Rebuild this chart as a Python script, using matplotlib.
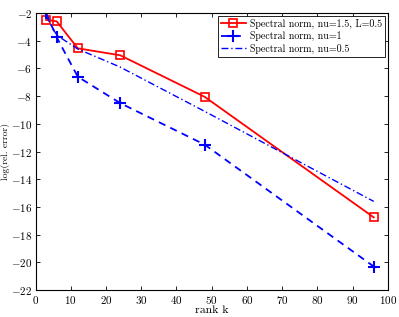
import matplotlib
matplotlib.use("Agg")
import matplotlib.pyplot as plt

plt.rcParams['font.family'] = 'cmr10'
plt.rcParams['mathtext.fontset'] = 'cm'
plt.rcParams['axes.formatter.use_mathtext'] = True

k = [3, 6, 12, 24, 48, 96]
nu15 = [-2.5, -2.6, -4.55, -5.05, -8.05, -16.75]
nu1 = [-2.0, -3.75, -6.6, -8.5, -11.5, -20.3]
nu05 = [-2.2, -3.6, -4.6, -5.9, -9.1, -15.6]
labels = ['Spectral norm, nu=1.5, L=0.5', 'Spectral norm, nu=1', 'Spectral norm, nu=0.5']

fig = plt.figure(figsize=(3.99, 3.17), dpi=100)
ax = fig.add_axes([0.089, 0.085, 0.883, 0.874])

ax.plot(k, nu15, '-', color='red', lw=1.3, marker='s', ms=6, mfc='none', mew=1.2, label=labels[0])
ax.plot(k, nu1, '--', color='blue', lw=1.3, marker='+', ms=8, mew=1.5, label=labels[1], dashes=(4, 3))
ax.plot(k, nu05, '-.', color='blue', lw=1.0, label=labels[2], dashes=(5, 2, 1, 2))

ax.set_xlim(0, 100)
ax.set_ylim(-22, -2)
ax.set_xticks(range(0, 101, 10))
ax.set_yticks(range(-22, -1, 2))
ax.tick_params(direction='in', top=True, right=True, labelsize=8, length=3, width=0.6, pad=2.5)
for s in ax.spines.values():
    s.set_linewidth(0.8)
ax.set_xlabel('rank k', fontsize=8.5, labelpad=0)
fig.text(1.5 / 399, 0.522, 'log(rel. error)', fontsize=7, rotation=90,
         ha='left', va='center')
leg = ax.legend(loc='upper right', fontsize=7.2, fancybox=False, framealpha=1,
                edgecolor='black', borderpad=0.3, labelspacing=0.2, handlelength=2.5,
                handletextpad=0.4, borderaxespad=0.3)
leg.get_frame().set_linewidth(0.6)

fig.savefig('out.png', dpi=100)
